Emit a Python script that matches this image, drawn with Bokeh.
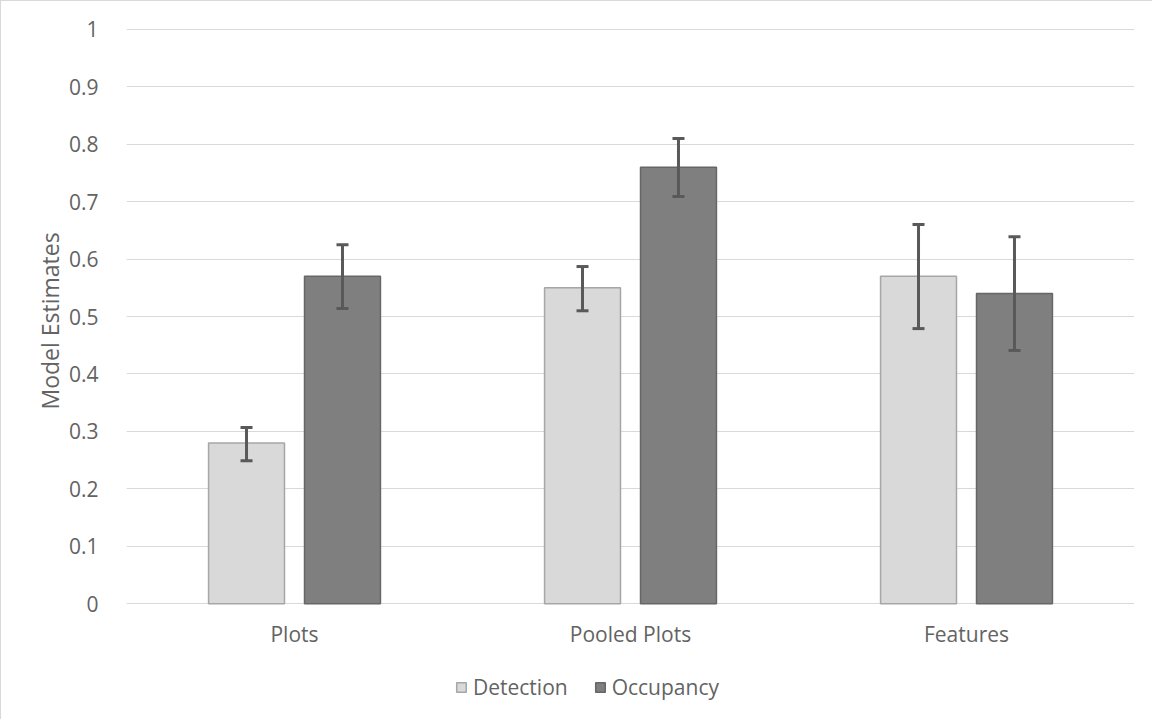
from bokeh.plotting import figure
from bokeh.models import ColumnDataSource, FactorRange, Whisker, TeeHead, Legend, LegendItem, Range1d, FixedTicker, Title
from bokeh.core.properties import value
from bokeh.transform import dodge
from bokeh.embed import file_html
from bokeh.resources import INLINE

categories = ["Plots", "Pooled Plots", "Features"]
detection = [0.28, 0.55, 0.57]
detection_lo = [0.249, 0.510, 0.479]
detection_hi = [0.307, 0.587, 0.660]
occupancy = [0.57, 0.76, 0.54]
occupancy_lo = [0.514, 0.709, 0.441]
occupancy_hi = [0.625, 0.810, 0.639]
y_ticks = [0, 0.1, 0.2, 0.3, 0.4, 0.5, 0.6, 0.7, 0.8, 0.9, 1.0]

FONT = "Open Sans"
TXT = "#636363"
FS = "21px"

src = ColumnDataSource(dict(cat=categories, det=detection, det_lo=detection_lo, det_hi=detection_hi,
                            occ=occupancy, occ_lo=occupancy_lo, occ_hi=occupancy_hi))

p = figure(x_range=FactorRange(*categories, range_padding=0), y_range=Range1d(-0.17, 1.01),
           width=1152, height=719, output_backend="svg", toolbar_location=None,
           x_axis_location=None,
           min_border_left=125, min_border_right=19, min_border_top=22, min_border_bottom=19)
p.styles = {"border-left": "1px solid #d9d9d9", "border-top": "1px solid #d9d9d9"}
p.outline_line_color = None

r1 = p.vbar(x=dodge("cat", -0.1428, range=p.x_range), top="det", width=0.226, source=src,
            fill_color="#d9d9d9", line_color="#a6a6a6", line_width=1.5)
r2 = p.vbar(x=dodge("cat", 0.1428, range=p.x_range), top="occ", width=0.226, source=src,
            fill_color="#7f7f7f", line_color="#666666", line_width=1.5)

for off, lo, hi in [(-0.1428, "det_lo", "det_hi"), (0.1428, "occ_lo", "occ_hi")]:
    w = Whisker(source=src, base=dodge("cat", off, range=p.x_range), upper=hi, lower=lo,
                line_color="#595959", line_width=3, level="overlay",
                upper_head=TeeHead(size=12, line_color="#595959", line_width=3),
                lower_head=TeeHead(size=12, line_color="#595959", line_width=3))
    p.add_layout(w)

# category labels under the baseline
p.text(x="cat", y=-0.0523, text="cat", source=src, text_align="center", text_baseline="middle",
       text_font=value(FONT), text_font_size=FS, text_color=TXT)

p.yaxis.ticker = FixedTicker(ticks=y_ticks)
p.yaxis.major_label_overrides = {t: ("1" if t == 1.0 else ("0" if t == 0 else f"{t:g}")) for t in y_ticks}
p.yaxis.axis_line_color = None
p.yaxis.major_tick_line_color = None
p.yaxis.minor_tick_line_color = None
p.yaxis.major_label_standoff = 22
p.yaxis.major_label_text_font = FONT
p.yaxis.major_label_text_font_size = FS
p.yaxis.major_label_text_color = TXT

p.add_layout(Title(text="Model Estimates", align="left", offset=292, standoff=0,
                   text_font=FONT, text_font_size="23px", text_font_style="normal",
                   text_color=TXT), "left")

p.xgrid.grid_line_color = None
p.ygrid.grid_line_color = "#d9d9d9"
p.ygrid.grid_line_width = 1

legend = Legend(items=[LegendItem(label="Detection", renderers=[r1]),
                       LegendItem(label="Occupancy", renderers=[r2])],
                orientation="horizontal", location=(329, 0),
                label_text_font=FONT, label_text_font_size=FS, label_text_color=TXT,
                glyph_width=12, glyph_height=12, label_standoff=6, spacing=26,
                label_height=20,
                border_line_color=None, background_fill_alpha=0, margin=0, padding=2)
p.add_layout(legend, "center")

open("out.html", "w").write(file_html(p, INLINE))
